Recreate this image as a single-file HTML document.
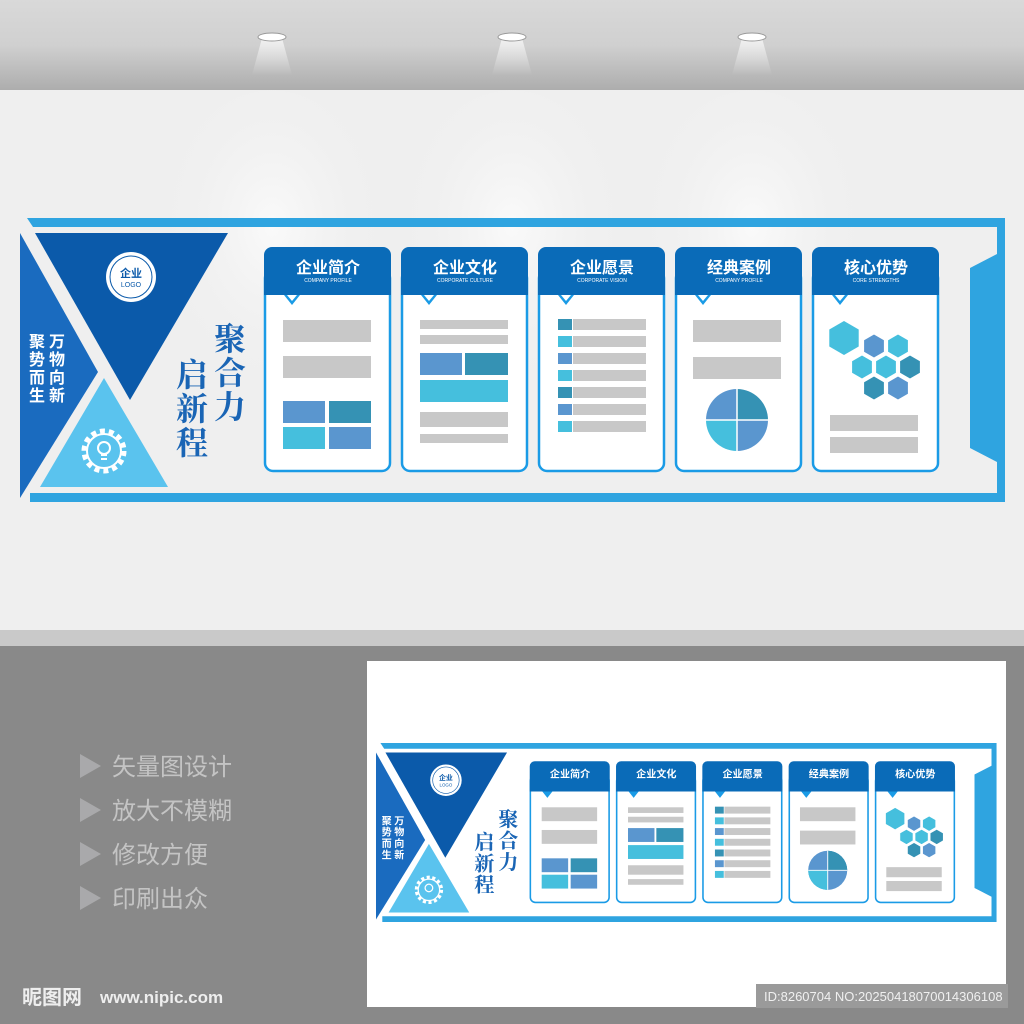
<!DOCTYPE html>
<html><head><meta charset="utf-8"><style>
html,body{margin:0;padding:0;width:1024px;height:1024px;overflow:hidden;background:#898989}
svg{display:block}
.cn{font-family:"Liberation Sans","Noto Sans CJK SC",sans-serif}
</style></head><body>
<svg width="1024" height="1024" viewBox="0 0 1024 1024" xmlns="http://www.w3.org/2000/svg">
<defs>
<linearGradient id="ceil" x1="0" y1="0" x2="0" y2="1"><stop offset="0" stop-color="#d9d9d9"/><stop offset="0.5" stop-color="#d0d0d0"/><stop offset="1" stop-color="#adadad"/></linearGradient>
<linearGradient id="cone" x1="0" y1="0" x2="0" y2="1"><stop offset="0" stop-color="#fff" stop-opacity="0.7"/><stop offset="1" stop-color="#fff" stop-opacity="0"/></linearGradient>
<radialGradient id="glow" cx="0.5" cy="0.4" r="0.5"><stop offset="0" stop-color="#fafafa"/><stop offset="1" stop-color="#efefef" stop-opacity="0"/></radialGradient>
</defs>
<rect x="0" y="0" width="1024" height="90" fill="url(#ceil)"/>
<rect x="0" y="90" width="1024" height="540" fill="#efefef"/>
<ellipse cx="272" cy="260" rx="120" ry="170" fill="url(#glow)"/>
<ellipse cx="512" cy="260" rx="120" ry="170" fill="url(#glow)"/>
<ellipse cx="752" cy="260" rx="120" ry="170" fill="url(#glow)"/>
<g fill="url(#cone)"><polygon points="262,38 282,38 292,75 252,75"/><polygon points="502,38 522,38 532,75 492,75"/><polygon points="742,38 762,38 772,75 732,75"/></g>
<g fill="#fff" stroke="#999" stroke-width="1"><ellipse cx="272" cy="37" rx="14" ry="4"/><ellipse cx="512" cy="37" rx="14" ry="4"/><ellipse cx="752" cy="37" rx="14" ry="4"/></g>
<rect x="0" y="630" width="1024" height="16" fill="#c9c9c9"/>
<rect x="0" y="646" width="1024" height="378" fill="#898989"/>

<g id="bigboard">
<polygon points="27,218 1005,218 1005,502 30,502 30,493 997,493 997,227 33,227" fill="#2fa4e0"/>
<polygon points="970,268 997,254 997,462 970,448" fill="#2fa4e0"/>
<polygon points="20,233 98,372 20,498" fill="#1a6bbf"/>
<polygon points="35,233 228,233 130,400" fill="#0b5aaa"/>
<polygon points="40,487 168,487 104,378" fill="#5ac3ee"/>
<circle cx="131" cy="277" r="25" fill="#fff"/><circle cx="131" cy="277" r="21" fill="none" stroke="#0b5aaa" stroke-width="1"/>
<text x="131" y="277" class="cn" font-size="11" font-weight="bold" fill="#0b5aaa" text-anchor="middle">企业</text>
<text x="131" y="287" class="cn" font-size="7" fill="#0b5aaa" text-anchor="middle">LOGO</text>
<g class="cn" font-size="16" font-weight="bold" fill="#fff" text-anchor="middle">
<text x="37" y="347">聚</text><text x="37" y="365">势</text><text x="37" y="383">而</text><text x="37" y="401">生</text>
<text x="57" y="347">万</text><text x="57" y="365">物</text><text x="57" y="383">向</text><text x="57" y="401">新</text></g>
<g fill="none" stroke="#fff"><circle cx="104" cy="451" r="20" stroke-width="5" stroke-dasharray="5 4"/><circle cx="104" cy="451" r="17" stroke-width="2"/><circle cx="104" cy="448" r="6" stroke-width="2"/><path d="M101,455h6M101,459h6" stroke-width="2"/></g>
<g font-family="'Noto Serif CJK SC','Liberation Serif',serif" font-size="32" font-weight="bold" fill="#1a65b5" text-anchor="middle">
<text x="230" y="350">聚</text><text x="230" y="384">合</text><text x="230" y="418">力</text>
<text x="192" y="386">启</text><text x="192" y="420">新</text><text x="192" y="454">程</text></g>

<g class="cn">
<g transform="translate(264,0)"><rect x="1" y="270" width="125" height="201" rx="8" fill="#fff" stroke="#1a9be6" stroke-width="2.5"/><path d="M0,295V255a8,8 0 0 1 8,-8H119a8,8 0 0 1 8,8V295Z" fill="#0a6bb8"/><polygon points="20,295 36,295 28,305" fill="#1a9be6"/><polygon points="23,295 33,295 28,301" fill="#fff"/><text x="64" y="273" font-size="16" font-weight="bold" fill="#fff" text-anchor="middle">企业简介</text><text x="64" y="282" font-size="5" fill="#fff" text-anchor="middle">COMPANY PROFILE</text></g>
<g transform="translate(401,0)"><rect x="1" y="270" width="125" height="201" rx="8" fill="#fff" stroke="#1a9be6" stroke-width="2.5"/><path d="M0,295V255a8,8 0 0 1 8,-8H119a8,8 0 0 1 8,8V295Z" fill="#0a6bb8"/><polygon points="20,295 36,295 28,305" fill="#1a9be6"/><polygon points="23,295 33,295 28,301" fill="#fff"/><text x="64" y="273" font-size="16" font-weight="bold" fill="#fff" text-anchor="middle">企业文化</text><text x="64" y="282" font-size="5" fill="#fff" text-anchor="middle">CORPORATE CULTURE</text></g>
<g transform="translate(538,0)"><rect x="1" y="270" width="125" height="201" rx="8" fill="#fff" stroke="#1a9be6" stroke-width="2.5"/><path d="M0,295V255a8,8 0 0 1 8,-8H119a8,8 0 0 1 8,8V295Z" fill="#0a6bb8"/><polygon points="20,295 36,295 28,305" fill="#1a9be6"/><polygon points="23,295 33,295 28,301" fill="#fff"/><text x="64" y="273" font-size="16" font-weight="bold" fill="#fff" text-anchor="middle">企业愿景</text><text x="64" y="282" font-size="5" fill="#fff" text-anchor="middle">CORPORATE VISION</text></g>
<g transform="translate(675,0)"><rect x="1" y="270" width="125" height="201" rx="8" fill="#fff" stroke="#1a9be6" stroke-width="2.5"/><path d="M0,295V255a8,8 0 0 1 8,-8H119a8,8 0 0 1 8,8V295Z" fill="#0a6bb8"/><polygon points="20,295 36,295 28,305" fill="#1a9be6"/><polygon points="23,295 33,295 28,301" fill="#fff"/><text x="64" y="273" font-size="16" font-weight="bold" fill="#fff" text-anchor="middle">经典案例</text><text x="64" y="282" font-size="5" fill="#fff" text-anchor="middle">COMPANY PROFILE</text></g>
<g transform="translate(812,0)"><rect x="1" y="270" width="125" height="201" rx="8" fill="#fff" stroke="#1a9be6" stroke-width="2.5"/><path d="M0,295V255a8,8 0 0 1 8,-8H119a8,8 0 0 1 8,8V295Z" fill="#0a6bb8"/><polygon points="20,295 36,295 28,305" fill="#1a9be6"/><polygon points="23,295 33,295 28,301" fill="#fff"/><text x="64" y="273" font-size="16" font-weight="bold" fill="#fff" text-anchor="middle">核心优势</text><text x="64" y="282" font-size="5" fill="#fff" text-anchor="middle">CORE STRENGTHS</text></g>
</g>
<g fill="#c8c8c8">
<rect x="283" y="320" width="88" height="22"/><rect x="283" y="356" width="88" height="22"/>
<rect x="420" y="320" width="88" height="9"/><rect x="420" y="335" width="88" height="9"/><rect x="420" y="412" width="88" height="15"/><rect x="420" y="434" width="88" height="9"/>
<rect x="573" y="319" width="73" height="11"/><rect x="573" y="336" width="73" height="11"/><rect x="573" y="353" width="73" height="11"/><rect x="573" y="370" width="73" height="11"/><rect x="573" y="387" width="73" height="11"/><rect x="573" y="404" width="73" height="11"/><rect x="573" y="421" width="73" height="11"/>
<rect x="693" y="320" width="88" height="22"/><rect x="693" y="357" width="88" height="22"/>
<rect x="830" y="415" width="88" height="16"/><rect x="830" y="437" width="88" height="16"/>
</g>
<rect x="283" y="401" width="42" height="22" fill="#5a96cf"/><rect x="329" y="401" width="42" height="22" fill="#3592b4"/><rect x="283" y="427" width="42" height="22" fill="#45bfdd"/><rect x="329" y="427" width="42" height="22" fill="#5a96cf"/>
<rect x="420" y="353" width="42" height="22" fill="#5a96cf"/><rect x="465" y="353" width="43" height="22" fill="#3592b4"/><rect x="420" y="380" width="88" height="22" fill="#45bfdd"/>
<rect x="558" y="319" width="14" height="11" fill="#3592b4"/><rect x="558" y="336" width="14" height="11" fill="#45bfdd"/><rect x="558" y="353" width="14" height="11" fill="#5a96cf"/><rect x="558" y="370" width="14" height="11" fill="#45bfdd"/><rect x="558" y="387" width="14" height="11" fill="#3592b4"/><rect x="558" y="404" width="14" height="11" fill="#5a96cf"/><rect x="558" y="421" width="14" height="11" fill="#45bfdd"/>
<g transform="translate(737,420)"><path d="M0,0V-31A31,31 0 0 0 -31,0Z" fill="#5a96cf"/><path d="M0,0V-31A31,31 0 0 1 31,0Z" fill="#3592b4"/><path d="M0,0H-31A31,31 0 0 0 0,31Z" fill="#45bfdd"/><path d="M0,0H31A31,31 0 0 1 0,31Z" fill="#5a96cf"/><path d="M0,-31V31M-31,0H31" stroke="#fff" stroke-width="1.5"/></g>
<polygon transform="translate(844,338)" points="0,-17 14.7,-8.5 14.7,8.5 0,17 -14.7,8.5 -14.7,-8.5" fill="#45bfdd"/>
<g stroke="#fff" stroke-width="1">
<polygon transform="translate(874,346)" points="0,-12 10.4,-6 10.4,6 0,12 -10.4,6 -10.4,-6" fill="#5a96cf"/>
<polygon transform="translate(898,346)" points="0,-12 10.4,-6 10.4,6 0,12 -10.4,6 -10.4,-6" fill="#45bfdd"/>
<polygon transform="translate(862,367)" points="0,-12 10.4,-6 10.4,6 0,12 -10.4,6 -10.4,-6" fill="#45bfdd"/>
<polygon transform="translate(886,367)" points="0,-12 10.4,-6 10.4,6 0,12 -10.4,6 -10.4,-6" fill="#45bfdd"/>
<polygon transform="translate(910,367)" points="0,-12 10.4,-6 10.4,6 0,12 -10.4,6 -10.4,-6" fill="#3592b4"/>
<polygon transform="translate(874,388)" points="0,-12 10.4,-6 10.4,6 0,12 -10.4,6 -10.4,-6" fill="#3592b4"/>
<polygon transform="translate(898,388)" points="0,-12 10.4,-6 10.4,6 0,12 -10.4,6 -10.4,-6" fill="#5a96cf"/>
</g>
</g>

<g fill="#a9a9ab"><polygon points="80,754 80,778 101,766"/><polygon points="80,798 80,822 101,810"/><polygon points="80,842 80,866 101,854"/><polygon points="80,886 80,910 101,898"/></g>
<g class="cn" font-size="24" fill="#c4c4c4">
<text x="112" y="775">矢量图设计</text><text x="112" y="819">放大不模糊</text><text x="112" y="863">修改方便</text><text x="112" y="907">印刷出众</text></g>
<text x="22" y="1004" class="cn" font-size="20" font-weight="bold" fill="#eee">昵图网</text>
<text x="100" y="1003" font-family="'Liberation Sans',sans-serif" font-size="17" font-weight="bold" fill="#eee">www.nipic.com</text>

<rect x="367" y="661" width="639" height="346" fill="#fff"/>
<g transform="translate(363.4,605.7) scale(0.63)">
<polygon points="27,218 1005,218 1005,502 30,502 30,493 997,493 997,227 33,227" fill="#2fa4e0"/>
<polygon points="970,268 997,254 997,462 970,448" fill="#2fa4e0"/>
<polygon points="20,233 98,372 20,498" fill="#1a6bbf"/>
<polygon points="35,233 228,233 130,400" fill="#0b5aaa"/>
<polygon points="40,487 168,487 104,378" fill="#5ac3ee"/>
<circle cx="131" cy="277" r="25" fill="#fff"/><circle cx="131" cy="277" r="21" fill="none" stroke="#0b5aaa" stroke-width="1"/>
<text x="131" y="277" class="cn" font-size="11" font-weight="bold" fill="#0b5aaa" text-anchor="middle">企业</text>
<text x="131" y="287" class="cn" font-size="7" fill="#0b5aaa" text-anchor="middle">LOGO</text>
<g class="cn" font-size="16" font-weight="bold" fill="#fff" text-anchor="middle">
<text x="37" y="347">聚</text><text x="37" y="365">势</text><text x="37" y="383">而</text><text x="37" y="401">生</text>
<text x="57" y="347">万</text><text x="57" y="365">物</text><text x="57" y="383">向</text><text x="57" y="401">新</text></g>
<g fill="none" stroke="#fff"><circle cx="104" cy="451" r="20" stroke-width="5" stroke-dasharray="5 4"/><circle cx="104" cy="451" r="17" stroke-width="2"/><circle cx="104" cy="448" r="6" stroke-width="2"/></g>
<g font-family="'Noto Serif CJK SC','Liberation Serif',serif" font-size="32" font-weight="bold" fill="#1a65b5" text-anchor="middle">
<text x="230" y="350">聚</text><text x="230" y="384">合</text><text x="230" y="418">力</text>
<text x="192" y="386">启</text><text x="192" y="420">新</text><text x="192" y="454">程</text></g>
<g class="cn">
<g transform="translate(264,0)"><rect x="1" y="270" width="125" height="201" rx="8" fill="#fff" stroke="#1a9be6" stroke-width="2.5"/><path d="M0,295V255a8,8 0 0 1 8,-8H119a8,8 0 0 1 8,8V295Z" fill="#0a6bb8"/><polygon points="20,295 36,295 28,305" fill="#1a9be6"/><text x="64" y="273" font-size="16" font-weight="bold" fill="#fff" text-anchor="middle">企业简介</text></g>
<g transform="translate(401,0)"><rect x="1" y="270" width="125" height="201" rx="8" fill="#fff" stroke="#1a9be6" stroke-width="2.5"/><path d="M0,295V255a8,8 0 0 1 8,-8H119a8,8 0 0 1 8,8V295Z" fill="#0a6bb8"/><polygon points="20,295 36,295 28,305" fill="#1a9be6"/><text x="64" y="273" font-size="16" font-weight="bold" fill="#fff" text-anchor="middle">企业文化</text></g>
<g transform="translate(538,0)"><rect x="1" y="270" width="125" height="201" rx="8" fill="#fff" stroke="#1a9be6" stroke-width="2.5"/><path d="M0,295V255a8,8 0 0 1 8,-8H119a8,8 0 0 1 8,8V295Z" fill="#0a6bb8"/><polygon points="20,295 36,295 28,305" fill="#1a9be6"/><text x="64" y="273" font-size="16" font-weight="bold" fill="#fff" text-anchor="middle">企业愿景</text></g>
<g transform="translate(675,0)"><rect x="1" y="270" width="125" height="201" rx="8" fill="#fff" stroke="#1a9be6" stroke-width="2.5"/><path d="M0,295V255a8,8 0 0 1 8,-8H119a8,8 0 0 1 8,8V295Z" fill="#0a6bb8"/><polygon points="20,295 36,295 28,305" fill="#1a9be6"/><text x="64" y="273" font-size="16" font-weight="bold" fill="#fff" text-anchor="middle">经典案例</text></g>
<g transform="translate(812,0)"><rect x="1" y="270" width="125" height="201" rx="8" fill="#fff" stroke="#1a9be6" stroke-width="2.5"/><path d="M0,295V255a8,8 0 0 1 8,-8H119a8,8 0 0 1 8,8V295Z" fill="#0a6bb8"/><polygon points="20,295 36,295 28,305" fill="#1a9be6"/><text x="64" y="273" font-size="16" font-weight="bold" fill="#fff" text-anchor="middle">核心优势</text></g>
</g>
<g fill="#c8c8c8">
<rect x="283" y="320" width="88" height="22"/><rect x="283" y="356" width="88" height="22"/>
<rect x="420" y="320" width="88" height="9"/><rect x="420" y="335" width="88" height="9"/><rect x="420" y="412" width="88" height="15"/><rect x="420" y="434" width="88" height="9"/>
<rect x="573" y="319" width="73" height="11"/><rect x="573" y="336" width="73" height="11"/><rect x="573" y="353" width="73" height="11"/><rect x="573" y="370" width="73" height="11"/><rect x="573" y="387" width="73" height="11"/><rect x="573" y="404" width="73" height="11"/><rect x="573" y="421" width="73" height="11"/>
<rect x="693" y="320" width="88" height="22"/><rect x="693" y="357" width="88" height="22"/>
<rect x="830" y="415" width="88" height="16"/><rect x="830" y="437" width="88" height="16"/>
</g>
<rect x="283" y="401" width="42" height="22" fill="#5a96cf"/><rect x="329" y="401" width="42" height="22" fill="#3592b4"/><rect x="283" y="427" width="42" height="22" fill="#45bfdd"/><rect x="329" y="427" width="42" height="22" fill="#5a96cf"/>
<rect x="420" y="353" width="42" height="22" fill="#5a96cf"/><rect x="465" y="353" width="43" height="22" fill="#3592b4"/><rect x="420" y="380" width="88" height="22" fill="#45bfdd"/>
<rect x="558" y="319" width="14" height="11" fill="#3592b4"/><rect x="558" y="336" width="14" height="11" fill="#45bfdd"/><rect x="558" y="353" width="14" height="11" fill="#5a96cf"/><rect x="558" y="370" width="14" height="11" fill="#45bfdd"/><rect x="558" y="387" width="14" height="11" fill="#3592b4"/><rect x="558" y="404" width="14" height="11" fill="#5a96cf"/><rect x="558" y="421" width="14" height="11" fill="#45bfdd"/>
<g transform="translate(737,420)"><circle r="31" fill="#5a96cf"/><path d="M0,0V-31A31,31 0 0 1 31,0Z" fill="#3592b4"/><path d="M0,0H-31A31,31 0 0 0 0,31Z" fill="#45bfdd"/><path d="M0,-31V31M-31,0H31" stroke="#fff" stroke-width="1.5"/></g>
<polygon transform="translate(844,338)" points="0,-17 14.7,-8.5 14.7,8.5 0,17 -14.7,8.5 -14.7,-8.5" fill="#45bfdd"/>
<g stroke="#fff" stroke-width="1">
<polygon transform="translate(874,346)" points="0,-12 10.4,-6 10.4,6 0,12 -10.4,6 -10.4,-6" fill="#5a96cf"/>
<polygon transform="translate(898,346)" points="0,-12 10.4,-6 10.4,6 0,12 -10.4,6 -10.4,-6" fill="#45bfdd"/>
<polygon transform="translate(862,367)" points="0,-12 10.4,-6 10.4,6 0,12 -10.4,6 -10.4,-6" fill="#45bfdd"/>
<polygon transform="translate(886,367)" points="0,-12 10.4,-6 10.4,6 0,12 -10.4,6 -10.4,-6" fill="#45bfdd"/>
<polygon transform="translate(910,367)" points="0,-12 10.4,-6 10.4,6 0,12 -10.4,6 -10.4,-6" fill="#3592b4"/>
<polygon transform="translate(874,388)" points="0,-12 10.4,-6 10.4,6 0,12 -10.4,6 -10.4,-6" fill="#3592b4"/>
<polygon transform="translate(898,388)" points="0,-12 10.4,-6 10.4,6 0,12 -10.4,6 -10.4,-6" fill="#5a96cf"/>
</g>
</g>
<rect x="756" y="984" width="252" height="24" fill="#9a9a9a"/>
<text x="764" y="1001" font-family="'Liberation Sans',sans-serif" font-size="13" fill="#f0f0f0">ID:8260704 NO:20250418070014306108</text>
</svg>
</body></html>
